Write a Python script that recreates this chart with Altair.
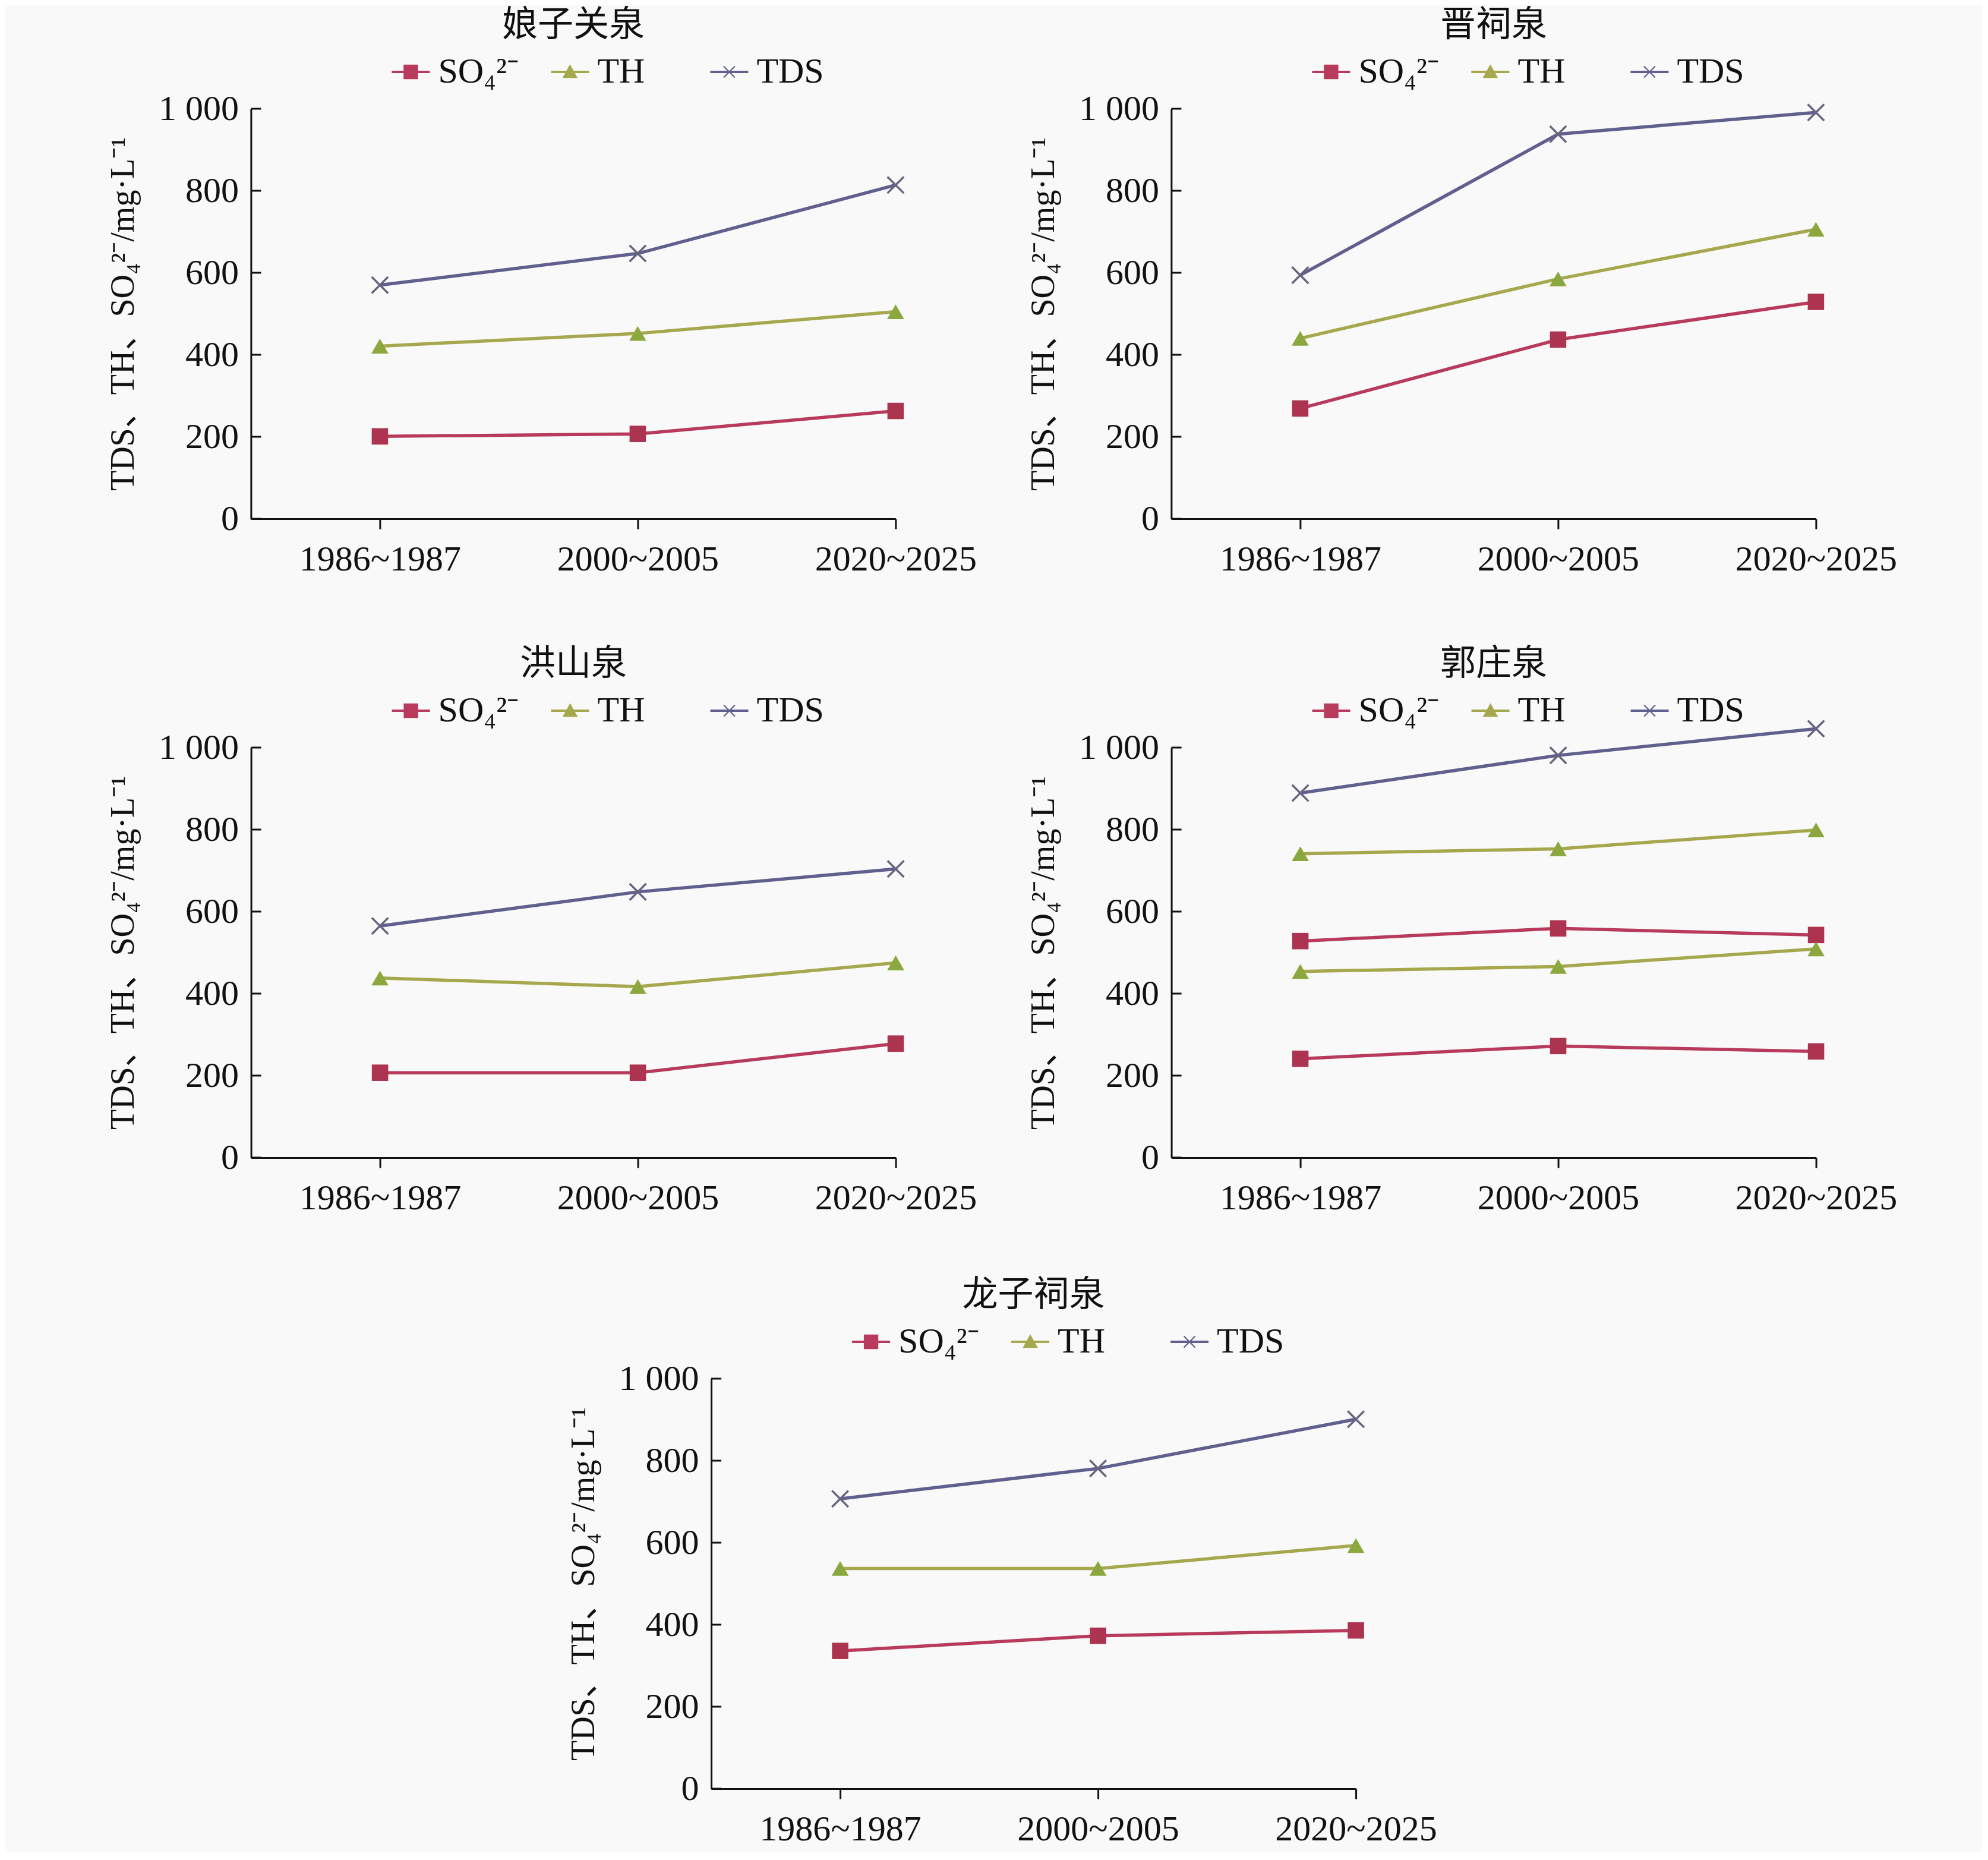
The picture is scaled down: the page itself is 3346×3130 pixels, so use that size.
import altair as alt
import pandas as pd

periods = ["1986~1987", "2000~2005", "2020~2025"]
series_names = ["SO₄²⁻", "TH", "TDS"]
springs = ["娘子关泉", "晋祠泉", "洪山泉", "郭庄泉", "龙子祠泉"]

# values per spring (two overlaid groups in 郭庄泉)
so4_a = {"娘子关泉": [201, 207, 263], "晋祠泉": [269, 437, 529], "洪山泉": [207, 207, 278],
         "郭庄泉": [528, 559, 543], "龙子祠泉": [336, 373, 386]}
th_a = {"娘子关泉": [421, 452, 505], "晋祠泉": [440, 585, 706], "洪山泉": [438, 417, 475],
        "郭庄泉": [741, 753, 799], "龙子祠泉": [537, 537, 593]}
tds_a = {"娘子关泉": [570, 647, 814], "晋祠泉": [594, 938, 991], "洪山泉": [565, 648, 704],
         "郭庄泉": [889, 981, 1046], "龙子祠泉": [707, 781, 901]}
so4_b = {"郭庄泉": [241, 272, 259]}
th_b = {"郭庄泉": [454, 466, 509]}

y_ticks = [0, 200, 400, 600, 800, 1000]

line_colors = ["#b83a5c", "#a6a84e", "#615f8e"]
marker_colors = ["#ac3450", "#8aa83e", "#66647e"]
legend_paths = [
    "M-1,-0.06H1V0.06H-1Z M-0.38,-0.38H0.38V0.38H-0.38Z",
    "M-1,-0.06H1V0.06H-1Z M0,-0.4L0.4,0.32H-0.4Z",
    "M-1,-0.06H1V0.06H-1Z M-0.32,-0.27L-0.27,-0.32L0.32,0.27L0.27,0.32Z M0.27,-0.32L0.32,-0.27L-0.27,0.32L-0.32,0.27Z",
]

rows = []
for sp in springs:
    for grp, (s, t, d) in {"a": (so4_a, th_a, tds_a), "b": (so4_b, th_b, {})}.items():
        for name, src in zip(series_names, (s, t, d)):
            if sp in src:
                for p, v in zip(periods, src[sp]):
                    rows.append({"spring": sp, "group": grp, "period": p, "series": name, "value": v})
df = pd.DataFrame(rows)
tick_df = pd.DataFrame({"value": y_ticks})

FONT = "Liberation Serif, Noto Sans CJK SC"
Y_TITLE = "TDS、TH、SO₄²⁻/mg·L⁻¹"
W, H = 1085, 690


def panel(name):
    d = df[df.spring == name]
    base = alt.Chart(d)
    x = alt.X("period:N", sort=periods,
              scale=alt.Scale(type="point", padding=0.25, align=1),
              axis=alt.Axis(title=None, labelAngle=0, labelFontSize=60, labelFont=FONT,
                            labelColor="#111", labelLimit=1000, tickSize=17, tickWidth=3,
                            tickColor="#111", domainColor="#111", domainWidth=3,
                            labelPadding=22, grid=False))
    y = alt.Y("value:Q", scale=alt.Scale(domain=[0, 1000], nice=False),
              axis=alt.Axis(values=y_ticks, title=Y_TITLE, titleFontSize=56, titleFont=FONT,
                            titleFontWeight="normal", titleColor="#111", titlePadding=30,
                            labelFontSize=60, labelFont=FONT, labelColor="#111",
                            labelExpr="replace(format(datum.value, ','), ',', ' ')",
                            tickSize=0, labelPadding=21, domainColor="#111", domainWidth=3,
                            grid=False))
    leg_props = dict(orient="none", legendX=237, legendY=-94, direction="horizontal",
                     columns=3, title=None, symbolSize=4096, symbolOpacity=1,
                     symbolStrokeWidth=0, labelFontSize=60, labelFont=FONT,
                     labelColor="#111", labelOffset=14, columnPadding=54,
                     gridAlign="all", padding=0)
    color = alt.Color("series:N", scale=alt.Scale(domain=series_names, range=line_colors),
                      legend=alt.Legend(**leg_props))
    shape = alt.Shape("series:N", scale=alt.Scale(domain=series_names, range=legend_paths),
                      legend=alt.Legend(**leg_props))
    leg = base.mark_point(filled=True, opacity=0).encode(x=x, y=y, color=color, shape=shape)
    lines = base.mark_line(strokeWidth=5.5).encode(
        x=x, y=y, color=color, detail="group:N", order="period:N")
    sq = base.transform_filter(alt.datum.series == series_names[0]).mark_point(
        shape="square", filled=True, size=760, opacity=1, color=marker_colors[0]).encode(x=x, y=y)
    tri = base.transform_filter(alt.datum.series == series_names[1]).mark_point(
        shape="triangle-up", filled=True, size=820, opacity=1, color=marker_colors[1]).encode(x=x, y=y)
    crs = base.transform_filter(alt.datum.series == series_names[2]).mark_point(
        shape="M-1,-1L1,1M1,-1L-1,1", filled=False, size=760, strokeWidth=3.5, opacity=1,
        color=marker_colors[2]).encode(x=x, y=y)
    ticks = alt.Chart(tick_df).mark_rule(color="#111", strokeWidth=3).encode(
        y=y, x=alt.value(0), x2=alt.value(17))
    return alt.layer(leg, lines, sq, tri, crs, ticks).properties(
        width=W, height=H,
        title=alt.TitleParams(text=name, fontSize=60, font=FONT, fontWeight="normal",
                              color="#111", anchor="middle", frame="group", offset=15))


def indep(c):
    return c.resolve_scale(color="independent", shape="independent").resolve_legend(
        color="independent", shape="independent")


row1 = indep(alt.hconcat(panel(springs[0]), panel(springs[1]), spacing=84))
row2 = indep(alt.hconcat(panel(springs[2]), panel(springs[3]), spacing=84))
lower = indep(alt.vconcat(row2, panel(springs[4]), spacing=104, center=True))
chart = indep(alt.vconcat(row1, lower, spacing=117, center=True)).properties(
    background="#f9f9f9", padding={"left": 171, "top": 5, "right": 143, "bottom": 8}
).configure_view(stroke=None)

chart.save("out.html", embed_options={"renderer": "svg", "actions": False})
